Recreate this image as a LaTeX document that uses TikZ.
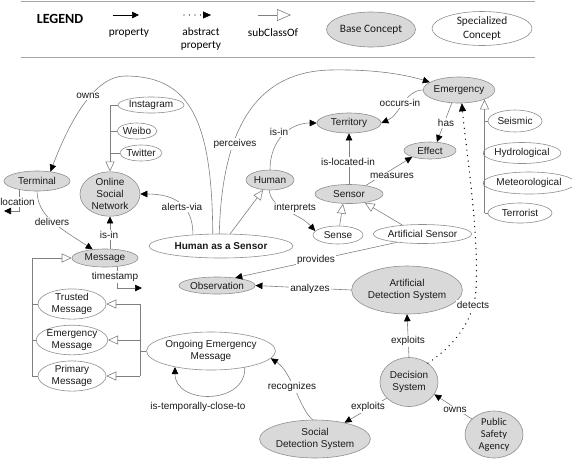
\documentclass[tikz,border=0pt]{standalone}
\usepackage{fontspec}
\setmainfont{Liberation Sans}
\newfontfamily\carlito{Carlito}
\usetikzlibrary{shapes.geometric,arrows.meta}
\definecolor{lc}{HTML}{808080}
\definecolor{bc}{HTML}{D9D9D9}
\definecolor{ec}{HTML}{8F8F8F}
\definecolor{tc}{HTML}{1A1A1A}
\newcommand{\dfont}{\fontsize{10}{12}\selectfont}
\newcommand{\lgfont}{\carlito\fontsize{11.3}{13.5}\selectfont}
\tikzset{
  base/.style={ellipse, draw=ec, fill=bc, line width=0.6pt, inner sep=0pt, align=center, font=\dfont, text=tc},
  spec/.style={ellipse, draw=ec, fill=white, line width=0.6pt, inner sep=0pt, align=center, font=\dfont, text=tc},
  sz/.style 2 args={minimum width=#1, minimum height=#2},
  prop/.style={draw=lc, line width=0.6pt, -{Triangle[length=7pt,width=6.5pt,color=black,fill=black]}},
  sub/.style={draw=lc, line width=0.6pt, -{Triangle[open,length=10pt,width=9pt,color=lc]}},
  abst/.style={draw=black, line width=1.4pt, line cap=round, dash pattern=on 0pt off 5.5pt, -{Triangle[length=8pt,width=7pt,color=black,fill=black,line width=0.3pt]}},
  conn/.style={draw=lc, line width=0.6pt},
  lbl/.style={fill=white, inner sep=1pt, font=\dfont, text=tc},
}
\begin{document}
\begin{tikzpicture}[x=1pt,y=-1pt]
\useasboundingbox (0,0) rectangle (572,459);
% ---------------- legend
\coordinate (lt1) at (21,1); \coordinate (lt2) at (535,1);
\coordinate (lb1) at (21,57); \coordinate (lb2) at (535,57);
\draw[draw=lc!70, line width=0.8pt] (lt1) -- (lt2);
\draw[draw=lc!70, line width=0.8pt] (lb1) -- (lb2);
\node[font=\carlito\bfseries\fontsize{14}{16}\selectfont] (lg) at (60,19) {LEGEND};
\coordinate (lp1) at (113,15); \coordinate (lp2) at (139,15);
\draw[prop, draw=black] (lp1) -- (lp2);
\node[font=\lgfont] (lpl) at (129,33) {property};
\coordinate (la1) at (184,15); \coordinate (la2) at (211,15);
\draw[abst] (la1) -- (la2);
\node[font=\lgfont, align=center] (lal) at (201,39) {abstract\\property};
\coordinate (ls1) at (258,15); \coordinate (ls2) at (291,15);
\draw[draw=lc, line width=0.6pt, -{Triangle[open,length=14pt,width=12pt,color=lc]}] (ls1) -- (ls2);
\node[font=\lgfont] (lsl) at (273,33) {subClassOf};
\node[base, font=\lgfont, sz={89pt}{35pt}] (lbase) at (371,29.5) {Base Concept};
\node[spec, font=\lgfont, sz={100pt}{34pt}] (lspec) at (482,28.5) {Specialized\\Concept};

% ---------------- nodes
\node[base, sz={64pt}{26pt}] (Emergency) at (459,90) {Emergency};
\node[base, sz={64pt}{20pt}] (Territory) at (349,123) {Territory};
\node[base, sz={52pt}{17pt}] (Effect) at (430,150.5) {Effect};
\node[base, sz={68pt}{19pt}] (Sensor) at (349,194) {Sensor};
\node[spec, sz={50pt}{18pt}] (Sense) at (338,235) {Sense};
\node[spec, sz={85pt}{19pt}] (ASensor) at (422.5,234) {Artificial Sensor};
\node[spec, sz={54pt}{22pt}] (Seismic) at (515,121) {Seismic};
\node[spec, sz={70pt}{21pt}] (Hydro) at (522,153) {Hydrological};
\node[spec, sz={82pt}{22pt}] (Meteo) at (529,183) {Meteorological};
\node[spec, sz={64pt}{20pt}] (Terror) at (520,213) {Terrorist};
\node[base, sz={66pt}{20pt}] (Terminal) at (37,181) {Terminal};
\node[base, sz={60pt}{44pt}] (OSN) at (110,194) {Online\\Social\\Network};
\node[spec, sz={66pt}{16pt}] (Insta) at (151,105) {Instagram};
\node[spec, sz={36pt}{16pt}] (Weibo) at (137,131) {Weibo};
\node[spec, sz={42pt}{16pt}] (Twitter) at (141,153) {Twitter};
\node[base, sz={48pt}{20pt}] (Human) at (270,180) {Human};
\node[spec, sz={144pt}{24pt}, font=\dfont\bfseries] (HaS) at (221,246) {Human as a Sensor};
\node[base, sz={66pt}{18pt}] (Message) at (105,258) {Message};
\node[spec, sz={68pt}{26pt}] (Trusted) at (72,304) {Trusted\\Message};
\node[spec, sz={68pt}{27pt}] (EMsg) at (72,340) {Emergency\\Message};
\node[spec, sz={68pt}{29pt}] (Primary) at (72,376) {Primary\\Message};
\node[spec, sz={111pt}{38pt}] (Ongoing) at (211,351) {Ongoing Emergency\\Message};
\node[base, sz={67pt}{17pt}] (Obs) at (217,285.5) {Observation};
\node[base, sz={94pt}{48pt}] (ADS) at (407,290) {Artificial\\Detection System};
\node[base, sz={58pt}{49pt}] (DS) at (409,382) {Decision\\System};
\node[base, sz={100pt}{38pt}] (SDS) at (315,439) {Social\\Detection System};
\node[base, sz={58pt}{47pt}, font=\carlito\fontsize{10.5}{12}\selectfont] (PSA) at (494,434.5) {Public\\Safety\\Agency};

% ---------------- subclass structures
\draw[sub] (Emergency.south east |- Terror.west) -- (Emergency.south east);
\draw[conn] (Emergency.south east |- Seismic.west) -- (Seismic.west);
\draw[conn] (Emergency.south east |- Hydro.west) -- (Hydro.west);
\draw[conn] (Emergency.south east |- Meteo.west) -- (Meteo.west);
\draw[conn] (Emergency.south east |- Terror.west) -- (Terror.west);

\draw[sub] (OSN.north |- Insta.west) -- (OSN.north);
\draw[conn] (OSN.north |- Insta.west) -- (Insta.west);
\draw[conn] (OSN.north |- Weibo.west) -- (Weibo.west);
\draw[conn] (OSN.north |- Twitter.west) -- (Twitter.west);

\coordinate (mj0) at (32,258); \coordinate (mj3) at (32,376);
\draw[conn] (mj3) -- (mj0);
\draw[sub] (mj0) -- (Message.west);
\draw[conn] (mj0 |- Trusted.west) -- (Trusted.west);
\draw[conn] (mj0 |- EMsg.west) -- (EMsg.west);
\draw[conn] (mj3) -- (Primary.west);

\coordinate (rj1) at (140,304); \coordinate (rj3) at (140,376);
\draw[conn] (rj1) -- (rj3);
\draw[sub] (rj1) -- (Trusted.east);
\draw[sub] (rj1 |- EMsg.east) -- (EMsg.east);
\draw[sub] (rj3) -- (Primary.east);
\draw[conn] (rj1 |- Ongoing.west) -- (Ongoing.west);

\draw[sub] (HaS.53) -- (Human.235);
\draw[sub] (Sense.80) -- (Sensor.238);
\draw[sub] (ASensor.156) -- (Sensor.331);

% ---------------- properties
\coordinate (owTop) at (125,76);
\draw[prop] (HaS.124) .. controls (212,120) and (190,76) .. (owTop) .. controls (95,76) and (70,120) .. (Terminal.35);
\node[lbl] (lOwns) at (88,96) {owns};

\coordinate (peTop) at (330,70);
\draw[prop] (HaS.98) .. controls (222,130) and (255,72) .. (peTop) .. controls (380,69) and (410,76) .. (Emergency.165);
\node[lbl] (lPerc) at (235,144) {perceives};

\draw[prop] (HaS.158) .. controls (193,205) and (175,194) .. (OSN.east);
\node[lbl] (lAlert) at (182,207) {alerts-via};

\draw[prop] (Message.north -| OSN.south) -- (OSN.south);
\node[lbl] (lIsIn1) at (109,235) {is-in};

\draw[prop] (Terminal.south) .. controls (38,215) and (55,225) .. (Message.145);
\node[lbl] (lDeliv) at (52,222) {delivers};

\coordinate (locEnd) at (4,211);
\draw[prop] (Terminal.207) |- (locEnd);
\node[lbl] (lLoc) at (17.5,202) {location};

\coordinate (tsEnd) at (142,288);
\draw[prop] (Message.325) |- (tsEnd);
\node[lbl] (lTs) at (115,277) {timestamp};

\draw[prop] (Human.north) .. controls (270,140) and (290,123) .. (Territory.west);
\node[lbl] (lIsIn2) at (279,132) {is-in};

\draw[prop] (Human.265) .. controls (272,210) and (298,212) .. (Sense.170);
\node[lbl] (lInterp) at (295,208) {interprets};

\draw[prop] (Emergency.west) .. controls (405,90) and (400,115) .. (Territory.east);
\node[lbl] (lOcc) at (400,103) {occurs-in};

\draw[prop] (Emergency.241) -- (Effect.51);
\node[lbl] (lHas) at (446,123) {has};

\draw[prop] (Sensor.north) -- (Territory.south);
\node[lbl] (lLoc2) at (348,162) {is-located-in};

\draw[prop] (Sensor.27) -- (Effect.200);
\node[lbl] (lMeas) at (392,176) {measures};

\draw[prop] (ASensor.198) -- node[lbl, pos=0.5] (lProv) {provides} (Obs.23);

\draw[prop] (ADS.west) -- (Obs.east);
\node[lbl] (lAnal) at (310,289) {analyzes};

\draw[prop] (DS.north) -- (ADS.south);
\node[lbl] (lExp1) at (408,341) {exploits};

\draw[prop] (DS.216) -- (SDS.29);
\node[lbl] (lExp2) at (368,407) {exploits};

\draw[prop] (PSA.145) -- (DS.334);
\node[lbl] (lOwns2) at (455,410) {owns};

\coordinate (deMid) at (476,290);
\draw[abst] (DS.45) .. controls (455,345) and (474,320) .. (deMid) .. controls (479,230) and (466,150) .. (Emergency.282);
\node[lbl] (lDet) at (473,305) {detects};

\draw[prop] (SDS.97) .. controls (300,410) and (292,372) .. (Ongoing.353);
\node[lbl] (lRec) at (292,387) {recognizes};

\draw[prop] (Ongoing.334) .. controls (246,405) and (175,405) .. (Ongoing.204);
\node[font=\dfont, text=tc] (lTemp) at (198,407) {is-temporally-close-to};
\end{tikzpicture}
\end{document}
